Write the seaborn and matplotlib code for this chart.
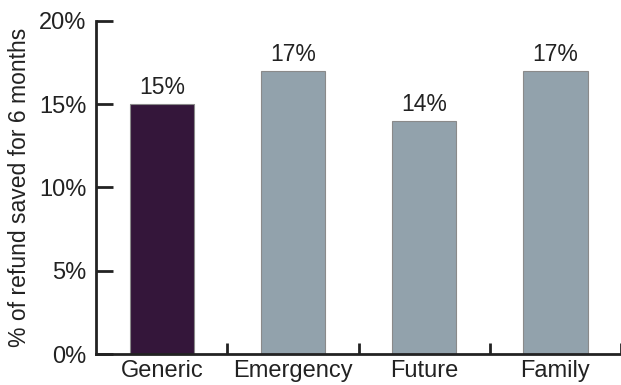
import matplotlib
matplotlib.use("Agg")
import matplotlib.pyplot as plt
import seaborn as sns
import pandas as pd
from matplotlib.ticker import FixedLocator, PercentFormatter

categories = ["Generic", "Emergency", "Future", "Family"]
values = [15, 17, 14, 17]
bar_colors = ["#381040", "#8ea3b0", "#8ea3b0", "#8ea3b0"]
y_ticks = [0, 5, 10, 15, 20]

sns.set_style("white")
plt.rcParams["font.family"] = ["Liberation Sans", "DejaVu Sans"]

df = pd.DataFrame({"category": categories, "value": values})

fig = plt.figure(figsize=(6.21, 3.85), dpi=100)
ax = fig.add_axes([0.155, 0.080, 0.845, 0.866])

sns.barplot(data=df, x="category", y="value", hue="category",
            palette=dict(zip(categories, bar_colors)), legend=False,
            width=0.49, edgecolor="#8a8a8a", linewidth=0.8, ax=ax)

for patch, v in zip(ax.patches, values):
    ax.text(patch.get_x() + patch.get_width() / 2, v + 0.3, f"{v}%",
            ha="center", va="bottom", fontsize=16.5, color="#222222")

ax.set_xlim(-0.5, 3.5)
ax.set_ylim(0, 20)
ax.set_yticks(y_ticks)
ax.yaxis.set_major_formatter(PercentFormatter(decimals=0))
ax.set_xlabel("")
ax.set_ylabel("% of refund saved for 6 months", fontsize=16.5, color="#222222")
ax.yaxis.set_label_coords(-0.125, 0.5)

for side in ["top", "right"]:
    ax.spines[side].set_visible(False)
for side in ["left", "bottom"]:
    ax.spines[side].set_linewidth(2)
    ax.spines[side].set_color("#222222")

ax.tick_params(axis="y", which="major", left=True, direction="in", length=12,
               width=2, color="#222222", labelsize=17, labelcolor="#222222", pad=7)
ax.tick_params(axis="x", which="major", bottom=True, length=0, labelsize=17,
               labelcolor="#222222", pad=4)
ax.xaxis.set_minor_locator(FixedLocator([0.5, 1.5, 2.5, 3.5]))
ax.tick_params(axis="x", which="minor", bottom=True, direction="in", length=8,
               width=2, color="#222222")

fig.savefig("out.png", dpi=100)
